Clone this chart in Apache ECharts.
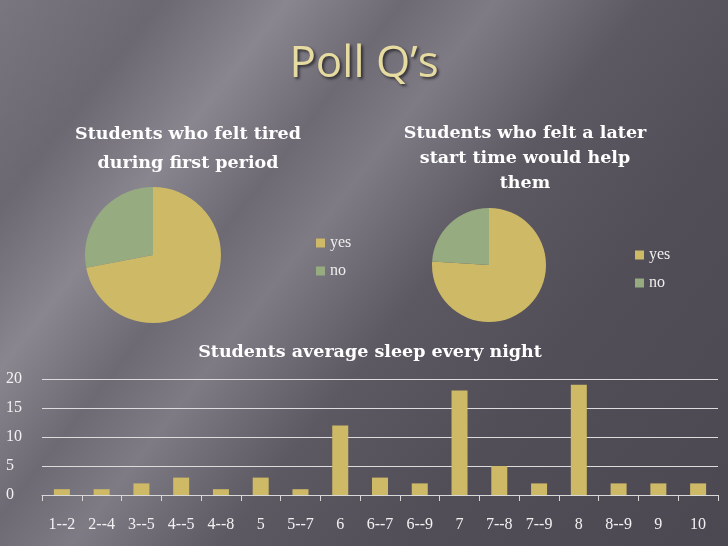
<!DOCTYPE html>
<html>
<head>
<meta charset="utf-8">
<script src="https://cdn.jsdelivr.net/npm/echarts@6/dist/echarts.min.js"></script>
<style>
html, body { margin: 0; padding: 0; }
body {
	width: 728px; height: 546px; overflow: hidden;
	background: linear-gradient(128deg, #7a7680 0%, #6c6872 14%, #8a8690 25%, #6e6a74 35%, #7f7b85 43%, #5d5963 56%, #524e58 72%, #4b4851 100%);
}
#main { width: 728px; height: 546px; }
</style>
</head>
<body>
<div id="main"></div>
<script>
var pieNames = ['yes', 'no'],
	tiredValues = [72, 28],
	laterValues = [76, 24];

var sleepHours = ['1--2', '2--4', '3--5', '4--5', '4--8', '5', '5--7', '6', '6--7', '6--9', '7', '7--8', '7--9', '8', '8--9', '9', '10'],
	sleepCounts = [1, 1, 2, 3, 1, 3, 1, 12, 3, 2, 18, 5, 2, 19, 2, 2, 2],
	yTicks = [0, 5, 10, 15, 20];

var gold = '#cdb966', sage = '#97ab80';
var serif = 'Liberation Serif', boldSerif = 'DejaVu Serif';

var pieData = function(vals){
	var out = [];
	for(var i = 0; i < pieNames.length; i++){
		out.push({name: pieNames[i], value: vals[i]});
	}
	return out;
}

var legendStyle = function(left, top){
	return {
		data: pieNames,
		orient: 'vertical',
		left: left, top: top,
		itemWidth: 9, itemHeight: 9,
		itemGap: 12,
		icon: 'rect',
		textStyle: {color: '#eeeeee', fontFamily: serif, fontSize: 16}
	};
}

var myChart = echarts.init(document.getElementById('main'));
var option = {
	color: [gold, sage],
	title: [{
		text: 'Poll Q\u2019s',
		left: 'center', top: 37,
		textStyle: {color: '#e6dba0', fontFamily: 'Open Sans', fontWeight: 'normal', fontSize: 44,
			textShadowColor: 'rgba(0,0,0,0.6)', textShadowBlur: 3, textShadowOffsetX: 2, textShadowOffsetY: 2}
	}, {
		text: 'Students who felt tired\nduring first period',
		left: 183, top: 115, textAlign: 'center',
		textStyle: {color: '#ffffff', fontFamily: boldSerif, fontSize: 17.5, lineHeight: 29}
	}, {
		text: 'Students who felt a later\nstart time would help\nthem',
		left: 520, top: 116, textAlign: 'center',
		textStyle: {color: '#ffffff', fontFamily: boldSerif, fontSize: 17.5, lineHeight: 25}
	}, {
		text: 'Students average sleep every night',
		left: 365, top: 338, textAlign: 'center',
		textStyle: {color: '#ffffff', fontFamily: boldSerif, fontSize: 17.5}
	}],
	legend: [legendStyle(311, 230), legendStyle(630, 242)],
	grid: {left: 42, right: 10, top: 379, bottom: 51},
	xAxis: {
		type: 'category',
		data: sleepHours,
		axisLine: {lineStyle: {color: '#d8d8d8'}},
		axisTick: {show: true, length: 6, lineStyle: {color: '#d8d8d8'}},
		axisLabel: {color: '#f2f2f2', fontFamily: serif, fontSize: 16, margin: 22, interval: 0}
	},
	yAxis: {
		type: 'value',
		min: yTicks[0], max: yTicks[yTicks.length - 1], interval: 5,
		axisLine: {show: false},
		axisTick: {show: false},
		splitLine: {lineStyle: {color: '#dcdcdc', width: 1}},
		axisLabel: {color: '#f2f2f2', fontFamily: serif, fontSize: 16, margin: 14, align: 'left', padding: [0, 0, 0, -22]}
	},
	series: [{
		type: 'pie',
		center: [153, 255], radius: 68,
		startAngle: 90, clockwise: true,
		label: {show: false}, labelLine: {show: false},
		silent: true,
		data: pieData(tiredValues)
	}, {
		type: 'pie',
		center: [489, 265], radius: 57,
		startAngle: 90, clockwise: true,
		label: {show: false}, labelLine: {show: false},
		silent: true,
		data: pieData(laterValues)
	}, {
		type: 'bar',
		data: sleepCounts,
		barWidth: 16,
		itemStyle: {color: gold},
		silent: true
	}]
};
myChart.setOption(option);
</script>
</body>
</html>
